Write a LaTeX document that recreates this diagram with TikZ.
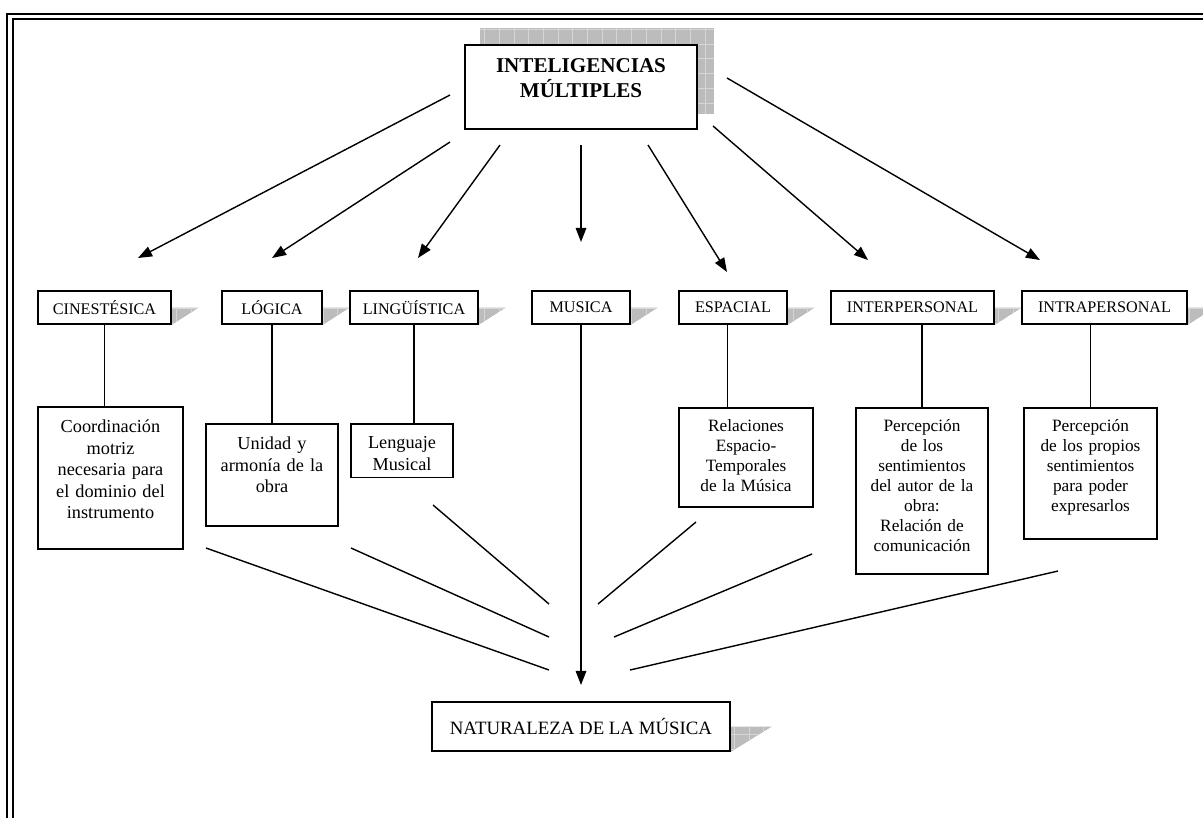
\documentclass[tikz,border=0pt]{standalone}
\usepackage{fontspec}
\setmainfont{Liberation Serif}
\usetikzlibrary{arrows.meta, positioning, backgrounds}
\definecolor{shadefill}{RGB}{188,188,188}
\definecolor{shadegrid}{RGB}{214,214,214}

\newcommand{\gridshade}[1]{%
  \begin{scope}
    \clip (0,0) rectangle (1203,817);
    \clip #1;
    \fill[shadefill] #1;
    \draw[shadegrid, line width=0.4pt, step=0.367cm] (0,0) grid (1203,817);
  \end{scope}}

\begin{document}
\begin{tikzpicture}[
  x=0.025cm, y=-0.025cm,
  every node/.style={align=center},
  titlebox/.style={
    draw, line width=1.3pt, fill=white, anchor=north,
    minimum width=5.8cm, inner ysep=0.35cm,
    font=\fontsize{15}{17.7}\selectfont\bfseries
  },
  catbox/.style={
    draw, line width=1.2pt, fill=white,
    minimum height=0.825cm, inner sep=2pt,
    font=\fontsize{11.5}{13}\selectfont
  },
  descbox/.style={
    draw, line width=1.2pt, fill=white, anchor=north,
    inner xsep=0.1cm, inner ysep=0.325cm,
    font=\fontsize{13}{15.3}\selectfont
  },
  descsmall/.style={
    descbox, inner ysep=0.3cm,
    font=\fontsize{12.3}{14.2}\selectfont
  },
  natbox/.style={
    draw, line width=1.2pt, fill=white,
    minimum width=7.45cm, minimum height=1.225cm,
    font=\fontsize{13.4}{16}\selectfont
  },
  arr/.style={-{Triangle[length=10pt, width=7.5pt]}, line width=1pt},
  link/.style={line width=1pt},
]

\useasboundingbox (0,0) rectangle (1203,817);
\clip (0,0) rectangle (1203,817);

%% ─── Page frame ──────────────────────────────────────────────────────────────

\draw[line width=1.5pt] (7,840) -- (7,14) -- (1220,14);
\draw[line width=1.5pt] (13,840) -- (13,19) -- (1220,19);

%% ─── Title ───────────────────────────────────────────────────────────────────

\node[titlebox, text depth=0.425cm] (intel) at (581,44) {INTELIGENCIAS\\MÚLTIPLES};

%% ─── Intelligences row ───────────────────────────────────────────────────────

\node[catbox, minimum width=3.325cm] (cin)   at ( 104.5,307.5) {CINESTÉSICA};
\node[catbox, minimum width=2.5cm]   (logi)  at ( 272,  307.5) {LÓGICA};
\node[catbox, minimum width=3.2cm]   (ling)  at ( 414,  307.5) {LINGÜÍSTICA};
\node[catbox, minimum width=2.45cm]  (musi)  at ( 581,  307.5) {MUSICA};
\node[catbox, minimum width=2.7cm]   (espa)  at ( 733,  307.5) {ESPACIAL};
\node[catbox, minimum width=4.075cm] (inter) at ( 912.5,307.5) {INTERPERSONAL};
\node[catbox, minimum width=4.125cm] (intra) at (1104.5,307.5) {INTRAPERSONAL};

%% ─── Descriptions (text depth counts from the first baseline) ───────────────

\node[descbox, text width=3.425cm, text depth=2.585cm] (coord) at (110.5,406)
  {Coordinación\\motriz\\necesaria para\\el dominio del\\instrumento};
\node[descbox, text width=3.1cm, text depth=1.585cm] (unid) at (272,423)
  {Unidad y\\armonía de la\\obra};
\node[descbox, text width=2.35cm, text depth=0.385cm] (leng) at (402,423)
  {Lenguaje\\Musical};
\node[descsmall, text width=3.15cm, text depth=1.58cm] (rela) at (746,407)
  {Relaciones\\Espacio-\\Temporales\\de la Música};
\node[descsmall, text width=3.1cm, text depth=3.255cm] (pinter) at (922,407)
  {Percepción\\de los\\sentimientos\\del autor de la\\obra:\\Relación de\\comunicación};
\node[descsmall, text width=3.125cm, text depth=2.38cm] (pintra) at (1090.5,407)
  {Percepción\\de los propios\\sentimientos\\para poder\\expresarlos};

\node[natbox] (nat) at (581,726.5) {NATURALEZA DE LA MÚSICA};

%% ─── Shadows (behind the boxes) ──────────────────────────────────────────────

\begin{pgfonlayer}{background}
  \gridshade{([shift={(16,-16)}]intel.south west) rectangle ([shift={(16,-16)}]intel.north east)}
  \foreach \nd in {cin, logi, ling, musi, espa, inter, intra}{
    \gridshade{(\nd.east) -- ++(27,0) -- (\nd.south east) -- cycle}
  }
  \gridshade{(nat.east) -- ++(41,0) -- (nat.south east) -- cycle}
\end{pgfonlayer}

%% ─── Arrows from the title ───────────────────────────────────────────────────

\foreach \i/\s/\e in {1/{450,95}/{138,258}, 2/{450,142}/{272,258},
                      3/{500,145}/{418,258}, 4/{581,145}/{581,242},
                      5/{648,145}/{727,272}, 6/{713,126}/{868,260},
                      7/{727,78}/{1040,260}}{
  \coordinate (from\i) at (\s);
  \coordinate (to\i) at (\e);
  \draw[arr] (from\i) -- (to\i);
}

%% ─── Descriptions hang from their boxes ─────────────────────────────────────

\foreach \up/\dn in {cin/coord, logi/unid, ling/leng}{
  \draw[link] (\up) -- (\up |- \dn.north);
}
\draw[link] ([xshift=-4]espa.south) -- ([xshift=-4]espa.south |- rela.north);
\foreach \up/\dn in {inter/pinter, intra/pintra}{
  \draw[link] (\dn.north) -- (\dn.north |- \up.south);
}

%% ─── Lines converging on the central arrow ───────────────────────────────────

\coordinate (natin) at (581,685);
\draw[arr] (musi) -- (natin);

\foreach \i/\s/\e in {1/{206,548}/{549,670}, 2/{351,548}/{549,637},
                      3/{433,505}/{549,604}, 4/{696,522}/{598,604},
                      5/{812,554}/{614,637}, 6/{1058,571}/{630,670}}{
  \coordinate (ls\i) at (\s);
  \coordinate (le\i) at (\e);
  \draw[link] (ls\i) -- (le\i);
}

\end{tikzpicture}
\end{document}
